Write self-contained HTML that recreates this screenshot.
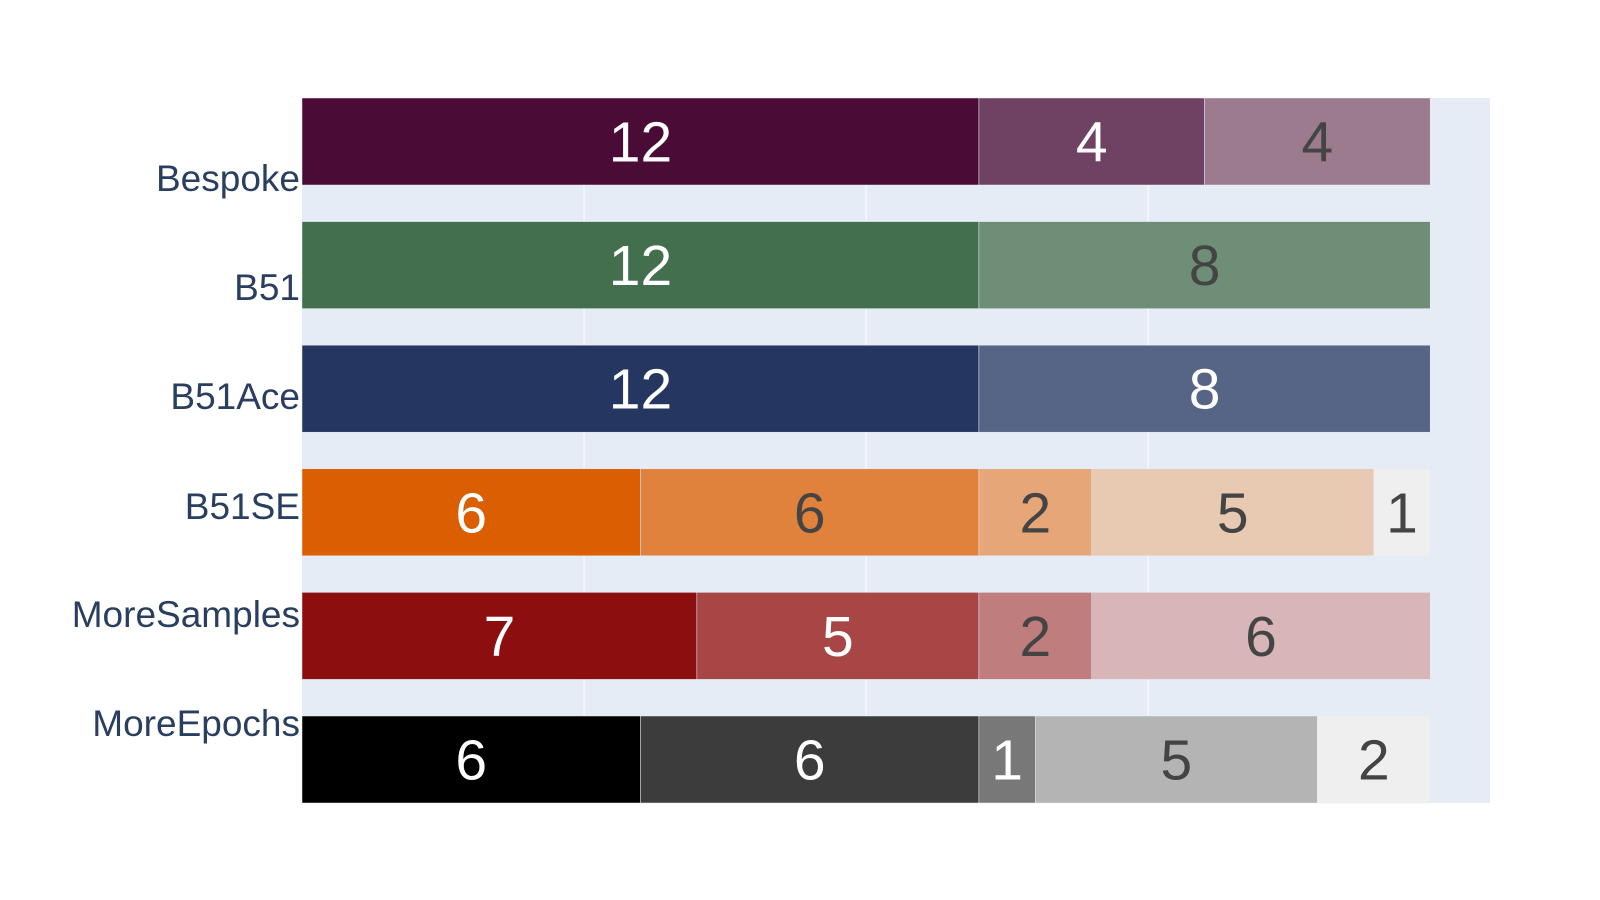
<!DOCTYPE html>
<html><head><meta charset="utf-8"><style>html,body{margin:0;padding:0;background:#fff}svg{display:block}</style></head>
<body>
<svg id="chart" width="1600" height="900" xmlns="http://www.w3.org/2000/svg"></svg>
<script>
const categories = ["Bespoke","B51","B51Ace","B51SE","MoreSamples","MoreEpochs"];
const seriesValues = [
  [12,4,4],
  [12,8],
  [12,8],
  [6,6,2,5,1],
  [7,5,2,6],
  [6,6,1,5,2]
];
const seriesColors = [
  ["#4a0c36","#6f4263","#9c7b8e"],
  ["#446f4f","#6f8e77"],
  ["#253760","#566586"],
  ["#db5f00","#e0823c","#e6a678","#e8cab2","#efefef"],
  ["#8c0e0e","#a84646","#c07d7d","#d8b5b6"],
  ["#000000","#3c3c3c","#787878","#b4b4b4","#efefef"]
];
const gridTicks = [5,10,15];
const labelY = [178,287,396,506,614,723];

const NS="http://www.w3.org/2000/svg";
const svg=document.getElementById('chart');
const L=302,R=1490,T=98,B=803,xMax=21.06;
const x=v=>L+v/xMax*(R-L);
const bh=87;
const pitch=(B-T-bh)/(categories.length-1);
const yc=i=>T+bh/2+pitch*i;
function mk(tag,attrs){const e=document.createElementNS(NS,tag);for(const k in attrs)e.setAttribute(k,attrs[k]);svg.appendChild(e);return e;}
function lum(h){const n=parseInt(h.slice(1),16);return 0.299*(n>>16)+0.587*((n>>8)&255)+0.114*(n&255);}

const bg=mk('rect',{x:L,y:T,width:R-L,height:B-T,fill:'#e5ecf6'});


gridTicks.forEach(t=>{
  const g=mk('line',{x1:x(t),x2:x(t),y1:T,y2:B,stroke:'#fff','stroke-width':1});
  
  
});
categories.forEach((c,i)=>{
  let acc=0;
  seriesValues[i].forEach((v,j)=>{
    const x0=x(acc),x1=x(acc+v);
    const col=seriesColors[i][j];
    const r=mk('rect',{x:x0,y:yc(i)-bh/2,width:x1-x0,height:bh,fill:col,stroke:'#e5ecf6','stroke-width':0.5});
    
    
    const t=mk('text',{x:(x0+x1)/2,y:yc(i)+20,'text-anchor':'middle','font-family':'Liberation Sans, sans-serif','font-size':57,fill:lum(col)<=125?'#ffffff':'#444444'});
    t.textContent=v;
    
    
    acc+=v;
  });
  const lb=mk('text',{x:300,y:labelY[i]+13,'text-anchor':'end','font-family':'Liberation Sans, sans-serif','font-size':37,fill:'#2a3f5f'});
  lb.textContent=c;
  
  
});
</script>
</body></html>
